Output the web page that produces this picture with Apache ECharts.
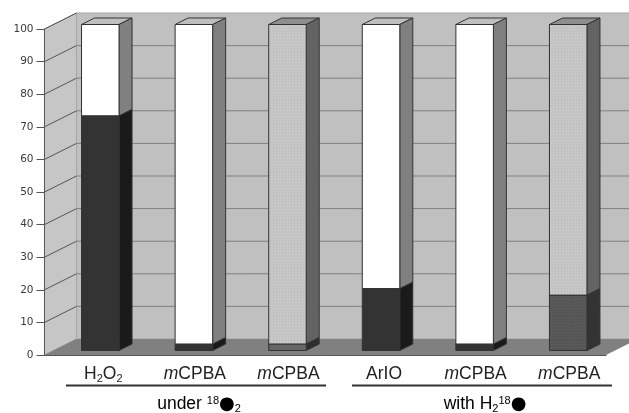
<!DOCTYPE html>
<html><head><meta charset="utf-8">
<style>html,body{margin:0;padding:0;background:#fff}#c{width:629px;height:413px}</style>
<script src="https://cdn.jsdelivr.net/npm/echarts@6/dist/echarts.min.js"></script>
</head><body><div id="c"></div>
<script>
const categories = ['H2O2', 'mCPBA-a', 'mCPBA-b', 'ArIO', 'mCPBA-c', 'mCPBA-d'];
const lowerValues = [72, 2, 2, 19, 2, 17];
const upperValues = [28, 98, 98, 81, 98, 83];
const yTicks = [0, 10, 20, 30, 40, 50, 60, 70, 80, 90, 100];
const groupLabels = ['under', 'with'];

function dots(bg, fg) {
  const c = document.createElement('canvas'); c.width = 3; c.height = 3;
  const g = c.getContext('2d'); g.fillStyle = bg; g.fillRect(0, 0, 3, 3);
  g.fillStyle = fg; g.fillRect(0, 0, 1, 1); g.fillRect(0, 1, 3, 0.4); return c;
}
const lightDots = { image: dots('#c8c8c8', '#bababa'), repeat: 'repeat' };
const darkDots = { image: dots('#5a5a5a', '#505050'), repeat: 'repeat' };
const white = { front: '#ffffff', side: '#808080', top: '#bfbfbf' };
const black = { front: '#333333', side: '#1a1a1a', top: '#333333' };
const grey = { front: lightDots, side: '#636363', top: '#8e8e8e' };
const greyLow = { front: '#666666', side: '#2e2e2e', top: '#666666' };
const greyDark = { front: darkDots, side: '#333333', top: '#555555' };
const lowerStyles = [black, black, greyLow, black, black, greyDark];
const upperStyles = [white, white, grey, white, white, grey];

const WALL = 32, NEAR = 9, FAR = 22, BAR = 37.5;
const poly = (points, fill, stroke, lw) => ({
  type: 'polygon', shape: { points },
  style: { fill, stroke: stroke || 'none', lineWidth: lw === undefined ? 1 : lw }
});

function renderBar(styles) {
  return function (params, api) {
    const i = api.value(0);
    const a = api.coord([i, api.value(1)]);
    const b = api.coord([i, api.value(2)]);
    const s = styles[i];
    const x0 = a[0] + NEAR - BAR / 2, x1 = x0 + BAR;
    const ya = a[1] - NEAR / 2, yb = b[1] - NEAR / 2;
    const dx = FAR - NEAR, dy = dx / 2, line = '#333333';
    return { type: 'group', children: [
      poly([[x0, yb], [x1, yb], [x1 + dx, yb - dy], [x0 + dx, yb - dy]], s.top, line),
      poly([[x1, ya], [x1 + dx, ya - dy], [x1 + dx, yb - dy], [x1, yb]], s.side, line),
      poly([[x0, ya], [x1, ya], [x1, yb], [x0, yb]], s.front, line)
    ]};
  };
}

function renderWalls(params, api) {
  const o = api.coord([0, 0]), t = api.coord([0, 100]);
  const left = o[0] - api.size([1, 0])[0] / 2;
  const right = left + api.size([1, 0])[0] * categories.length;
  const d = WALL, h = WALL / 2, ext = right + 60;
  const ch = [
    poly([[left, o[1]], [left + d, o[1] - h], [left + d, t[1] - h], [left, t[1]]], '#c6c6c6', '#999999'),
    poly([[left + d, o[1] - h], [ext, o[1] - h], [ext, t[1] - h], [left + d, t[1] - h]], '#c0c0c0', '#a6a6a6'),
    poly([[left, o[1]], [right, o[1]], [right + d, o[1] - h], [left + d, o[1] - h]], '#808080', 'none')
  ];
  yTicks.forEach(v => {
    if (v === 0) return;
    const y = api.coord([0, v])[1];
    ch.push({ type: 'line', shape: { x1: left, y1: y, x2: left + d, y2: y - h }, style: { stroke: '#555555', lineWidth: 1 } });
    if (v < 100) ch.push({ type: 'line', shape: { x1: left + d, y1: y - h, x2: ext, y2: y - h }, style: { stroke: '#808080', lineWidth: 1 } });
  });
  return { type: 'group', children: ch };
}

const chart = echarts.init(document.getElementById('c'), null, { renderer: 'canvas' });
const sansRich = { fontFamily: 'Liberation Sans', fontSize: 17.5, color: '#222' };
const rich = {
  t: { ...sansRich },
  p: { ...sansRich, padding: [0, 0, 0, 4] },
  i: { ...sansRich, fontStyle: 'italic' },
  sub: { ...sansRich, fontSize: 11, verticalAlign: 'bottom', padding: [9, 0, 0, 0] },
  sup: { ...sansRich, fontSize: 11, padding: [0, 0, 7, 0] },
  dot: { fontFamily: 'DejaVu Sans', fontSize: 18, color: '#000' }
};
const xLabel = { 'H2O2': '{p|H}{sub|2}{t|O}{sub|2}', 'ArIO': '{p|ArIO}' };
const groupText = {
  under: '{t|under }{sup|18}{dot|●}{sub|2}',
  with: '{t|with H}{sub|2}{sup|18}{dot|●}'
};
const groupLayout = { under: [66, 326], with: [352, 612] };

chart.setOption({
  animation: false,
  backgroundColor: '#fff',
  grid: { left: 44.5, right: 23, top: 29, bottom: 58, containLabel: false },
  xAxis: {
    type: 'category', data: categories, z: 5,
    axisLine: { show: true, onZero: false, lineStyle: { color: '#555', width: 1 } },
    axisTick: { show: false },
    axisLabel: { margin: 9, interval: 0, rich, lineHeight: 20, padding: [0, 0, 0, 20],
      formatter: v => xLabel[v] || '{i|m}{t|CPBA}' }
  },
  yAxis: {
    type: 'value', min: 0, max: 100, interval: 10, z: 5,
    axisLine: { show: true, lineStyle: { color: '#555', width: 1 } },
    axisTick: { show: true, length: 8, lineStyle: { color: '#555', width: 1 } },
    axisLabel: { margin: 11, fontFamily: 'DejaVu Sans', fontSize: 10.5, color: '#3a3a3a' },
    splitLine: { show: false }
  },
  graphic: groupLabels.flatMap(k => {
    const [a, b] = groupLayout[k];
    return [
      { type: 'line', z: 10, shape: { x1: a, y1: 385.5, x2: b, y2: 385.5 }, style: { stroke: '#333', lineWidth: 2 } },
      { type: 'text', z: 10, x: (a + b) / 2 + 3, y: 404,
        style: { text: groupText[k], rich, align: 'center', verticalAlign: 'middle' } }
    ];
  }),
  series: [
    { type: 'custom', name: 'walls', z: 1, clip: false, silent: true, renderItem: renderWalls, data: [[0, 0]], encode: { x: 0, y: 1 } },
    { type: 'custom', name: 'lower', z: 2, clip: false, renderItem: renderBar(lowerStyles),
      data: categories.map((c, i) => [i, 0, lowerValues[i]]), encode: { x: 0, y: [1, 2] } },
    { type: 'custom', name: 'upper', z: 3, clip: false, renderItem: renderBar(upperStyles),
      data: categories.map((c, i) => [i, lowerValues[i], lowerValues[i] + upperValues[i]]), encode: { x: 0, y: [1, 2] } }
  ]
});
</script></body></html>
